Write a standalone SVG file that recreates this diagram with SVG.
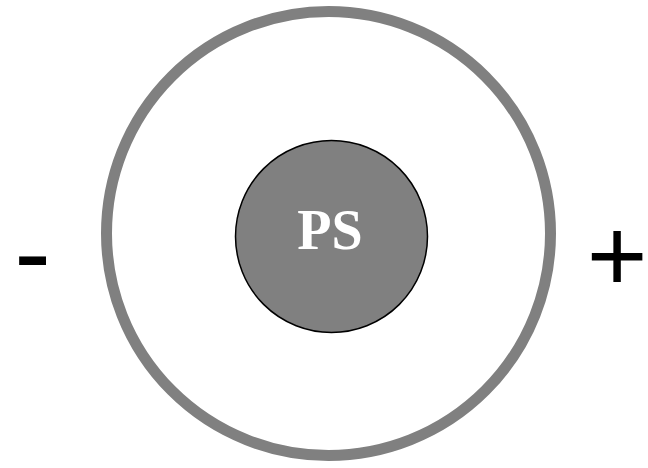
<svg xmlns="http://www.w3.org/2000/svg" width="648" height="468" viewBox="0 0 648 468">
<style>
.sign{font-family:"Liberation Sans",Arial,sans-serif;font-size:110px;fill:#000}
.lbl{font-family:"Liberation Serif","Times New Roman",serif;font-weight:bold;font-size:56px;fill:#fff}
</style>
<rect width="648" height="468" fill="#fff"/>
<g id="outer">
<circle cx="328.5" cy="233.5" r="222" fill="none" stroke="#808080" stroke-width="11"/>
</g>
<g id="ps">
<circle cx="331.5" cy="236.5" r="96" fill="#808080" stroke="#000" stroke-width="1.5"/>
<text class="lbl" x="330" y="249" text-anchor="middle">PS</text>
</g>
<g id="minus"><text class="sign" x="32.5" y="290" text-anchor="middle">-</text></g>
<g id="plus"><text class="sign" x="617" y="291" text-anchor="middle" style="font-size:104px">+</text></g>
<g id="connectors"/>
</svg>
